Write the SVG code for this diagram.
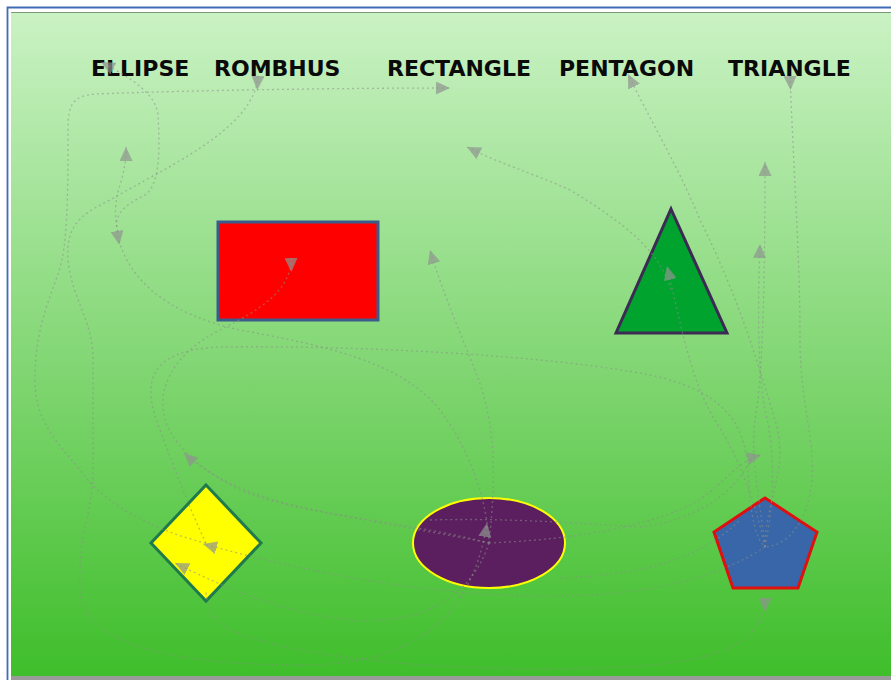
<svg xmlns="http://www.w3.org/2000/svg" width="891" height="680" viewBox="0 0 891 680">
<defs>
<linearGradient id="bg" x1="0" y1="0" x2="0" y2="1">
<stop offset="0" stop-color="#caf2c4"/>
<stop offset="0.5" stop-color="#86d878"/>
<stop offset="1" stop-color="#3fbe2b"/>
</linearGradient>
<marker id="ae" markerUnits="userSpaceOnUse" markerWidth="15" markerHeight="13" refX="14" refY="6.5" orient="auto">
<path d="M0,0 L14,6.5 L0,13 z" fill="#8e948e" fill-opacity="0.7"/>
</marker>
<marker id="as" markerUnits="userSpaceOnUse" markerWidth="15" markerHeight="13" refX="0" refY="6.5" orient="auto">
<path d="M0,0 L14,6.5 L0,13 z" fill="#8e948e" fill-opacity="0.7"/>
</marker>
<style>
.lbl{font-family:"DejaVu Sans","Liberation Sans",sans-serif;font-weight:bold;font-size:22px;fill:#0a0a0a}
.c{fill:none;stroke:#8a8f8a;stroke-opacity:0.55;stroke-width:1.3;stroke-dasharray:2 3}
</style>
</defs>
<rect x="0" y="0" width="891" height="680" fill="#ffffff"/>
<path d="M7.5,680 L7.5,7.5 L891,7.5" fill="none" stroke="#3f6cb4" stroke-width="1.8"/>
<rect x="11" y="12" width="880" height="664" fill="url(#bg)"/>
<line x1="11" y1="12.5" x2="891" y2="12.5" stroke="#7a9a7a" stroke-width="1"/>
<rect x="11" y="676" width="880" height="4" fill="#9a9a9a"/>

<g id="label-ellipse"><text class="lbl" x="91" y="76">ELLIPSE</text></g>
<g id="label-rombhus"><text class="lbl" x="214" y="76">ROMBHUS</text></g>
<g id="label-rectangle"><text class="lbl" x="387" y="76">RECTANGLE</text></g>
<g id="label-pentagon"><text class="lbl" x="559" y="76">PENTAGON</text></g>
<g id="label-triangle"><text class="lbl" x="728" y="76">TRIANGLE</text></g>

<g id="rectangle"><rect x="218" y="222" width="160" height="98" fill="#ff0000" stroke="#3a5c8c" stroke-width="3"/></g>
<g id="triangle"><polygon points="671,209 727,333 616,333" fill="#00a32e" stroke="#3c2a55" stroke-width="3"/></g>
<g id="rombhus"><polygon points="206,485 261,543 206,601 151,543" fill="#ffff00" stroke="#1f7a4c" stroke-width="3"/></g>
<g id="ellipse"><ellipse cx="489" cy="543" rx="76" ry="45" fill="#5b1f5f" stroke="#ffff00" stroke-width="2"/></g>
<g id="pentagon"><polygon points="765,498 817,532 798,588 733,588 714,532" fill="#3866a8" stroke="#e01010" stroke-width="3"/></g>

<g id="connectors">
<path class="c" marker-start="url(#as)" marker-end="url(#ae)" d="M258,76 C255,130 160,170 110,200 C80,215 66,225 68,260 C72,300 93,320 93,360 L93,470 C92,520 78,530 80,590 C82,640 160,665 300,665 C400,665 470,630 487,523"/>
<path class="c" marker-end="url(#ae)" d="M206,543 C150,530 100,500 80,470 C55,440 35,420 35,380 C35,320 55,290 62,260 C68,230 68,180 68,130 C68,105 72,96 95,94 C200,90 350,88 450,88"/>
<path class="c" marker-end="url(#ae)" d="M765,547 C765,500 790,470 775,420 C760,370 740,300 700,220 C680,170 650,120 628,74"/>
<path class="c" marker-start="url(#as)" d="M790,76 C795,200 800,260 800,340 C800,400 815,440 812,480 C808,520 790,545 765,547"/>
<path class="c" marker-end="url(#ae)" d="M118,232 C112,215 125,205 145,195 C160,185 160,150 158,115 C156,95 135,80 101,62"/>
<path class="c" marker-end="url(#ae)" d="M118,232 C114,215 115,200 120,185 C124,172 126,162 126,147"/>
<path class="c" marker-start="url(#as)" d="M117,231 C125,280 170,315 240,330 C320,345 400,360 440,410 C470,450 487,500 489,543"/>
<path class="c" marker-start="url(#as)" d="M291,258 C292,290 260,310 220,330 C180,350 160,380 163,410 C166,440 200,470 240,490 C300,515 400,520 489,543"/>
<path class="c" marker-end="url(#ae)" d="M489,543 C400,525 300,512 250,492 C220,480 200,468 184,453"/>
<path class="c" marker-end="url(#ae)" d="M489,543 C497,470 495,420 475,370 C455,320 442,290 430,250"/>
<path class="c" marker-end="url(#ae)" d="M671,290 C660,250 620,220 570,190 C530,172 500,164 467,147"/>
<path class="c" marker-end="url(#ae)" d="M765,547 C755,500 740,460 715,420 C690,380 680,320 667,266"/>
<path class="c" marker-end="url(#ae)" d="M765,547 C760,500 750,460 755,420 C762,380 765,300 765,162"/>
<path class="c" marker-end="url(#ae)" d="M765,547 C775,500 775,450 765,410 C757,370 758,300 760,244"/>
<path class="c" marker-end="url(#ae)" d="M489,543 C560,540 640,530 690,505 C720,490 735,462 761,455"/>
<path class="c" marker-end="url(#ae)" d="M765,547 C700,590 600,600 500,595 C400,590 300,570 203,544"/>
<path class="c" marker-end="url(#ae)" d="M489,543 C470,600 420,625 350,620 C280,612 230,590 175,563"/>
<path class="c" marker-start="url(#as)" d="M765,598 C765,650 700,665 600,668 C450,672 300,660 230,630 C210,620 206,600 206,590"/>
<path class="c" d="M206,543 C190,510 175,470 160,430 C140,380 150,350 220,347 C350,345 550,355 650,375 C720,390 745,420 748,470 C750,520 757,540 765,547"/>
<path class="c" d="M430,520 C500,518 560,522 640,527 C700,520 740,490 755,450"/>
<path class="c" d="M560,578 C640,575 700,560 740,520"/>
</g>
</svg>
